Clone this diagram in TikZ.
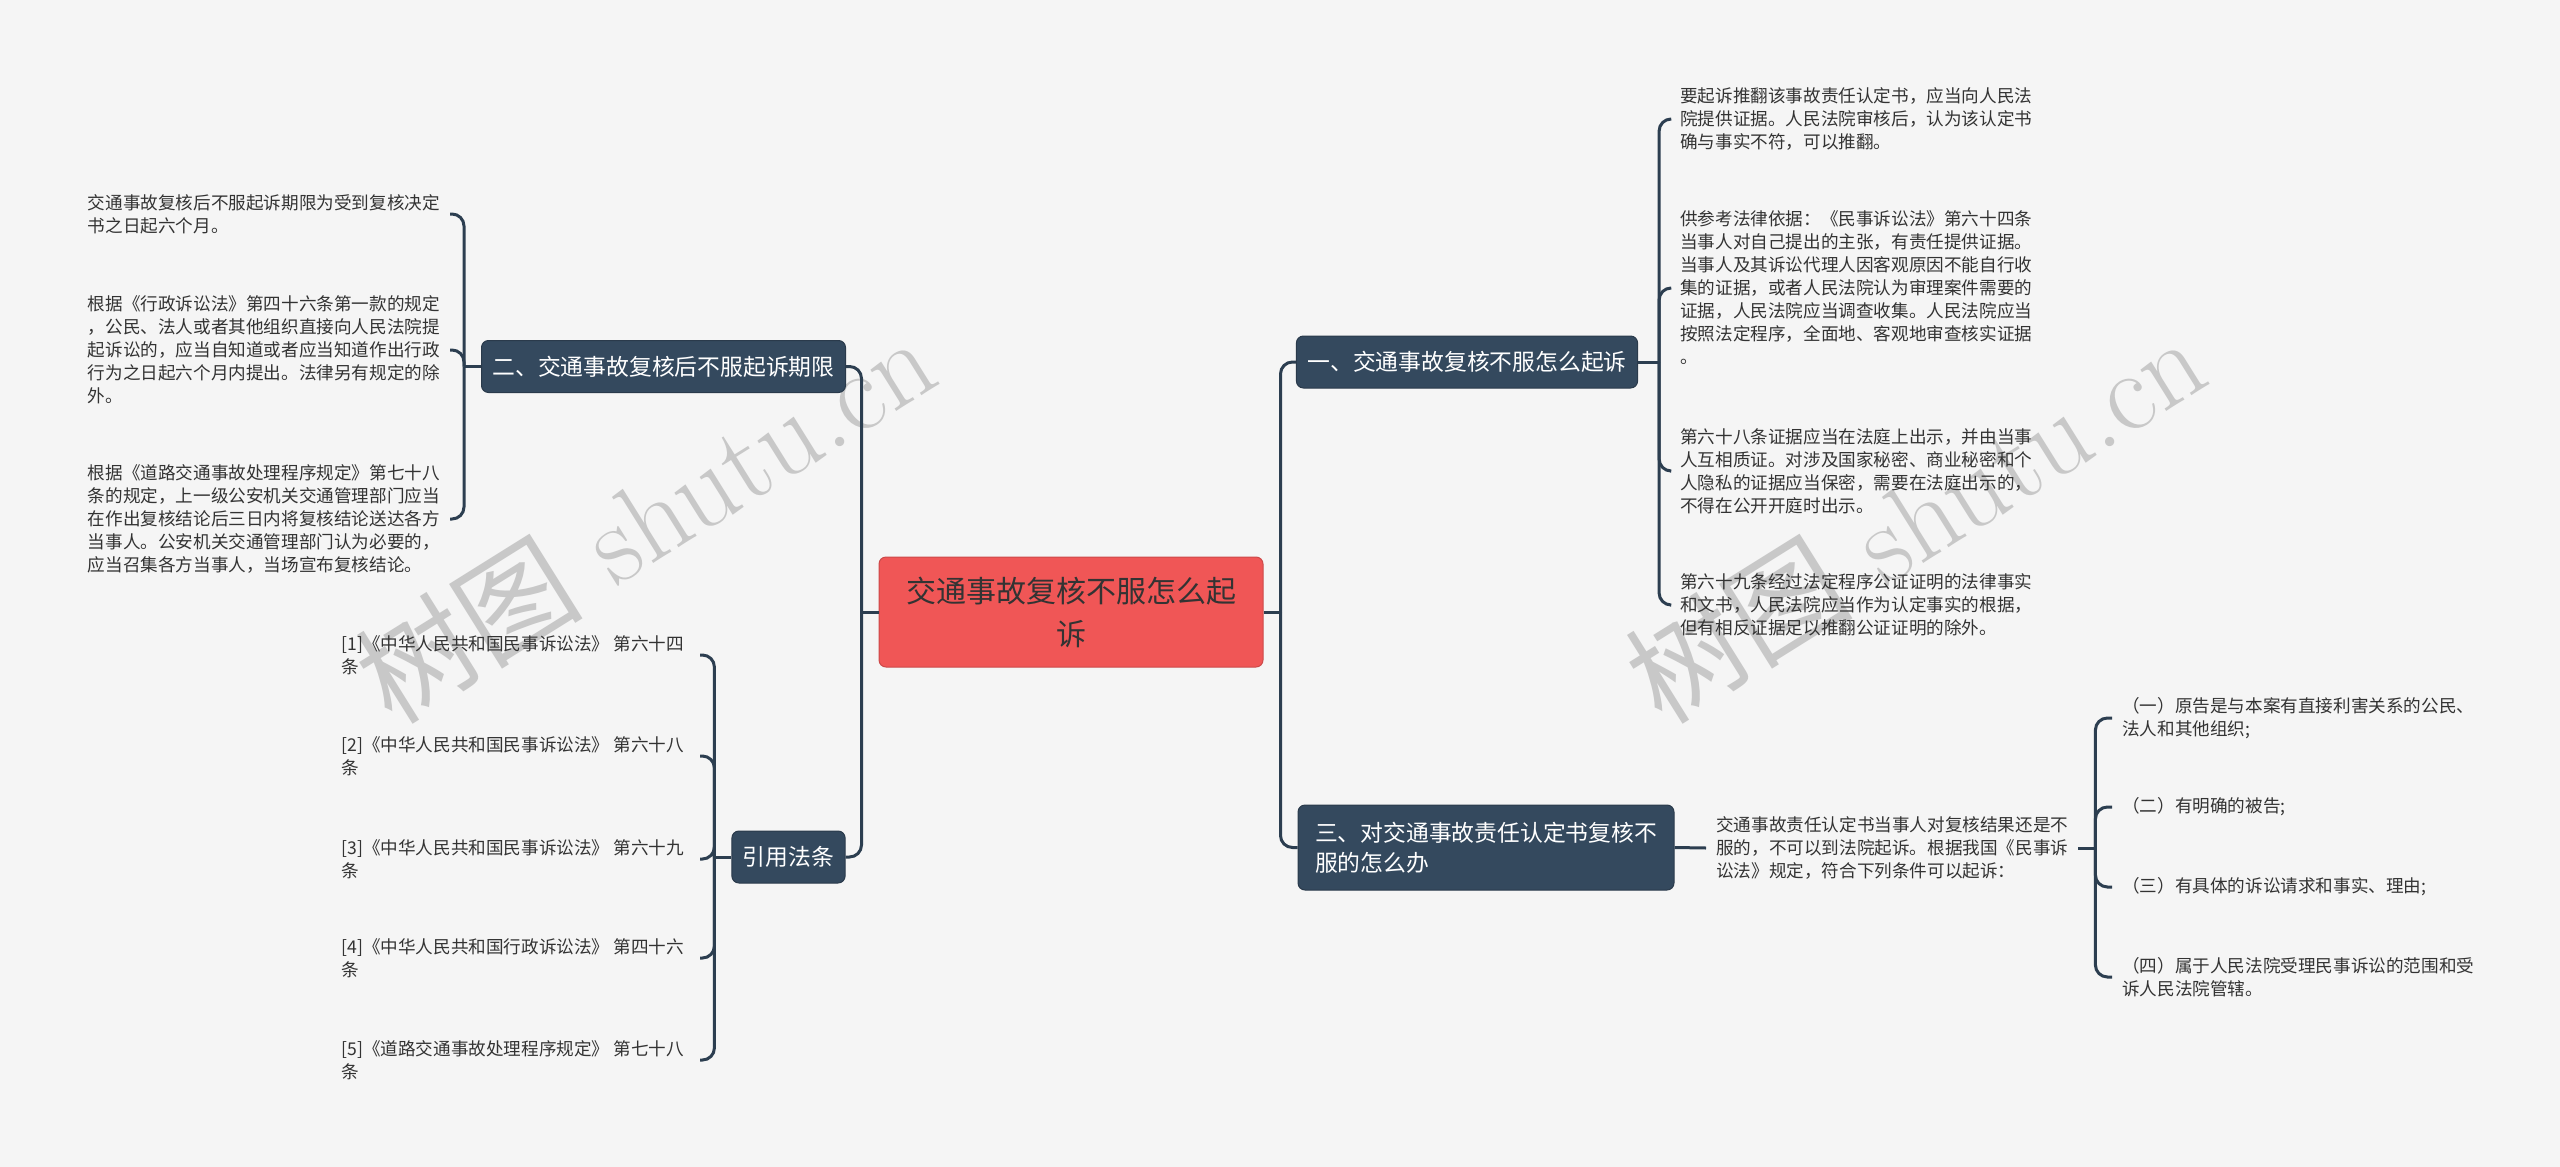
\documentclass[tikz,border=0pt]{standalone}
\usepackage{fontspec}
\usepackage{tikz}
\usetikzlibrary{positioning, calc}
\newfontfamily\cjk{Noto Sans CJK SC}
\definecolor{bgcol}{HTML}{F5F5F5}
\definecolor{topic}{HTML}{34495E}
\definecolor{rootred}{HTML}{F05656}
\definecolor{linecol}{HTML}{2C3E50}
\definecolor{leaftext}{HTML}{333333}
\definecolor{markgray}{HTML}{C8C8C8}
\tikzset{
  rootbox/.style={fill=rootred, draw=rootred!85!black, line width=1pt, rounded corners=7pt,
    minimum width=384pt, minimum height=110pt, align=center, text=leaftext,
    font=\cjk\fontsize{30}{43}\selectfont},
  topicbox/.style={fill=topic, draw=topic!80!black, line width=1pt, rounded corners=7pt,
    minimum height=52pt, inner xsep=11pt, text=white,
    font=\cjk\fontsize{22.8}{30}\selectfont},
  leaf/.style={align=left, inner xsep=10pt, inner ysep=2pt, text=leaftext,
    font=\cjk\fontsize{17.6}{23}\selectfont},
  link/.style={draw=linecol, line width=3pt, rounded corners=12pt},
  watermark/.style={text=markgray, rotate=32, font=\fontsize{114}{114}\selectfont}
}

\begin{document}
\begin{tikzpicture}[x=1pt, y=-1pt]
% Canvas
\fill[bgcol] (0,0) rectangle (2560,1167);
\useasboundingbox (0,0) rectangle (2560,1167);

% Watermarks
\node[watermark] (wm1) at (645,518) {{\cjk 树图} shutu.cn};
\node[watermark] (wm2) at (1915,518) {{\cjk 树图} shutu.cn};

% Central topic
\node[rootbox] (root) at (1071,612) {交通事故复核不服怎么起\\诉};

% Main branches
\node[topicbox] (t1) at (1467,362) {一、交通事故复核不服怎么起诉};
\node[topicbox] (t2) at (663.5,366.5) {二、交通事故复核后不服起诉期限};
\node[topicbox, align=left, inner xsep=17pt, minimum height=85pt] (t3) at (1486,847.5)
  {三、对交通事故责任认定书复核不\\服的怎么办};
\node[topicbox] (t4) at (788.5,857) {引用法条};

% Junctions
\coordinate (jl) at ([xshift=-17pt]root.west);
\coordinate (jr) at ([xshift=17pt]root.east);
\coordinate (j1) at ([xshift=21pt]t1.east);
\coordinate (j2) at ([xshift=-17pt]t2.west);
\coordinate (j4) at ([xshift=-17pt]t4.west);

\draw[link] (root.west) -- (jl);
\draw[link] (root.east) -- (jr);
\draw[link] (jl) |- (t2.east);
\draw[link] (jl) |- (t4.east);
\draw[link] (jr) |- (t1.west);
\draw[link] (jr) |- (t3.west);

% Branch one
\draw[link] (t1.east) -- (j1);
\foreach \i/\y/\txt in {
  1/119/{要起诉推翻该事故责任认定书，应当向人民法\\院提供证据。人民法院审核后，认为该认定书\\确与事实不符，可以推翻。},
  2/288/{供参考法律依据：《民事诉讼法》第六十四条\\当事人对自己提出的主张，有责任提供证据。\\当事人及其诉讼代理人因客观原因不能自行收\\集的证据，或者人民法院认为审理案件需要的\\证据，人民法院应当调查收集。人民法院应当\\按照法定程序，全面地、客观地审查核实证据\\。},
  3/471/{第六十八条证据应当在法庭上出示，并由当事\\人互相质证。对涉及国家秘密、商业秘密和个\\人隐私的证据应当保密，需要在法庭出示的，\\不得在公开开庭时出示。},
  4/605/{第六十九条经过法定程序公证证明的法律事实\\和文书，人民法院应当作为认定事实的根据，\\但有相反证据足以推翻公证证明的除外。}} {
  \node[leaf, anchor=west] (a\i) at (1670,\y) {\txt};
  \draw[link] (j1) |- (a\i.west);
}

% Branch two
\draw[link] (t2.west) -- (j2);
\foreach \i/\y/\txt in {
  1/214/{交通事故复核后不服起诉期限为受到复核决定\\书之日起六个月。},
  2/350/{根据《行政诉讼法》第四十六条第一款的规定\\，公民、法人或者其他组织直接向人民法院提\\起诉讼的，应当自知道或者应当知道作出行政\\行为之日起六个月内提出。法律另有规定的除\\外。},
  3/519/{根据《道路交通事故处理程序规定》第七十八\\条的规定，上一级公安机关交通管理部门应当\\在作出复核结论后三日内将复核结论送达各方\\当事人。公安机关交通管理部门认为必要的，\\应当召集各方当事人，当场宣布复核结论。}} {
  \node[leaf, anchor=east] (b\i) at (450,\y) {\txt};
  \draw[link] (j2) |- (b\i.east);
}

% Branch three
\node[leaf, anchor=west] (desc) at (1706,848)
  {交通事故责任认定书当事人对复核结果还是不\\服的，不可以到法院起诉。根据我国《民事诉\\讼法》规定，符合下列条件可以起诉：};
\draw[link] (t3.east) -- (desc.west);
\coordinate (j3) at ([xshift=17pt]desc.east);
\draw[link] (desc.east) -- (j3);
\foreach \i/\y/\txt in {
  1/718/{（一）原告是与本案有直接利害关系的公民、\\法人和其他组织;},
  2/807/{（二）有明确的被告;},
  3/887/{（三）有具体的诉讼请求和事实、理由;},
  4/977/{（四）属于人民法院受理民事诉讼的范围和受\\诉人民法院管辖。}} {
  \node[leaf, anchor=west] (d\i) at (2112,\y) {\txt};
  \draw[link] (j3) |- (d\i.west);
}

% Cited articles
\draw[link] (t4.west) -- (j4);
\foreach \i/\y/\txt in {
  1/655/{[1]《中华人民共和国民事诉讼法》 第六十四\\条},
  2/756/{[2]《中华人民共和国民事诉讼法》 第六十八\\条},
  3/859/{[3]《中华人民共和国民事诉讼法》 第六十九\\条},
  4/958/{[4]《中华人民共和国行政诉讼法》 第四十六\\条},
  5/1060/{[5]《道路交通事故处理程序规定》 第七十八\\条}} {
  \node[leaf, anchor=east, inner xsep=16pt] (c\i) at (700,\y) {\txt};
  \draw[link] (j4) |- (c\i.east);
}
\end{tikzpicture}
\end{document}
